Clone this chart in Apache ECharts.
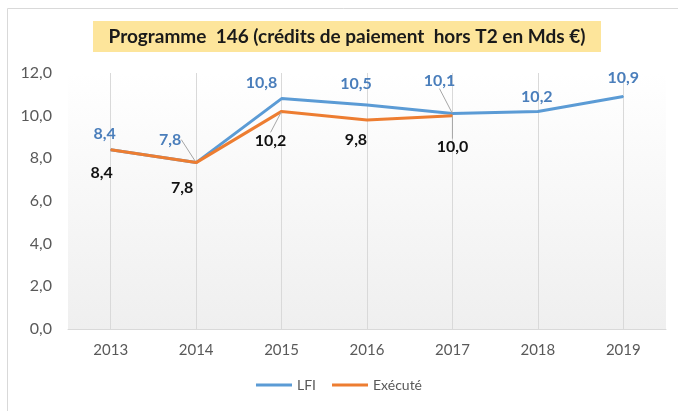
<!DOCTYPE html>
<html><head><meta charset="utf-8">
<script src="https://cdn.jsdelivr.net/npm/echarts@6/dist/echarts.min.js"></script>
<style>html,body{margin:0;padding:0;background:#fff}#c{width:678px;height:411px}</style>
</head><body><div id="c"></div>
<script>
const years = ['2013','2014','2015','2016','2017','2018','2019'];
const lfi = [8.4, 7.8, 10.8, 10.5, 10.1, 10.2, 10.9];
const execute = [8.4, 7.8, 10.2, 9.8, 10.0, null, null];
const yTicks = [0, 2, 4, 6, 8, 10, 12];
const titleText = 'Programme  146 (crédits de paiement  hors T2 en Mds €)';

const lfiOffsets = [[-6,-16],[-26,-23],[-20,-16],[-11,-21],[-13,-33],[-1,-15],[0,-19]];
const exeOffsets = [[-9,23],[-14,25],[-11,29],[-11,20],[0,31]];
const lfiLeader = [false,true,false,false,true,false,false];
const exeLeader = [false,false,true,false,true];

const fmt = v => v.toFixed(1).replace('.', ',');
const FONT = 'Lato, "Open Sans", sans-serif';

const chart = echarts.init(document.getElementById('c'), null, {renderer:'canvas'});
chart.setOption({
  animation: false,
  textStyle: {fontFamily: FONT},
  graphic: [
    {type:'rect', shape:{x:7.5,y:8.5,width:700,height:420}, style:{fill:'none', stroke:'#d9d9d9', lineWidth:1}, z:-10},
    {type:'rect', shape:{x:93,y:21,width:508,height:31}, style:{fill:'#fde59b'}, z:1},
    {type:'text', x:347, y:37, style:{text:titleText, fill:'#1a1a1a', font:'bold 19px '+FONT, textAlign:'center', textVerticalAlign:'middle'}, z:2}
  ],
  grid: {left:68, right:12, top:73, bottom:82, show:true, borderWidth:0,
    backgroundColor: new echarts.graphic.LinearGradient(0,0,0,1,[{offset:0,color:'#ffffff'},{offset:1,color:'#efefef'}])},
  legend: {bottom:14, left:'center', itemWidth:36, itemHeight:3, itemGap:16, icon:'rect',
    textStyle:{color:'#595959', fontSize:14, fontFamily:FONT}, data:['LFI','Exécuté']},
  xAxis: {type:'category', data:years, boundaryGap:true,
    axisLine:{lineStyle:{color:'#d9d9d9', width:1}}, axisTick:{show:false},
    axisLabel:{color:'#595959', fontSize:15, margin:14, fontFamily:FONT},
    splitLine:{show:true, alignWithLabel:true, lineStyle:{color:'#d9d9d9', width:1}}},
  yAxis: {type:'value', min:yTicks[0], max:yTicks[yTicks.length-1], interval:2,
    axisLine:{show:false}, axisTick:{show:false}, splitLine:{show:false},
    axisLabel:{color:'#595959', fontSize:16, margin:16, formatter:v=>fmt(v), fontFamily:FONT}},
  series: [
    {name:'LFI', type:'line', symbol:'circle', symbolSize:1, z:2,
      lineStyle:{color:'#5b9bd5', width:3}, itemStyle:{color:'#5b9bd5'},
      label:{show:true, position:'inside', color:'#4a7ebb', fontSize:16, fontWeight:'bold', fontFamily:FONT, formatter:p=>fmt(p.value)},
      labelLine:{show:false, lineStyle:{color:'#a6a6a6', width:1}},
      labelLayout: p => ({dx: lfiOffsets[p.dataIndex][0], dy: lfiOffsets[p.dataIndex][1]}),
      data: lfi.map((v,i)=>({value:v, labelLine:{show:lfiLeader[i]}}))},
    {name:'Exécuté', type:'line', symbol:'circle', symbolSize:1, z:3,
      lineStyle:{color:'#ed7d31', width:3}, itemStyle:{color:'#ed7d31'},
      label:{show:true, position:'inside', color:'#111111', fontSize:16, fontWeight:'bold', fontFamily:FONT, formatter:p=>fmt(p.value)},
      labelLine:{show:false, lineStyle:{color:'#a6a6a6', width:1}},
      labelLayout: p => (p.dataIndex < exeOffsets.length ? {dx: exeOffsets[p.dataIndex][0], dy: exeOffsets[p.dataIndex][1]} : {}),
      data: execute.map((v,i)=>({value:v, labelLine:{show:!!exeLeader[i]}}))}
  ]
});
</script></body></html>
